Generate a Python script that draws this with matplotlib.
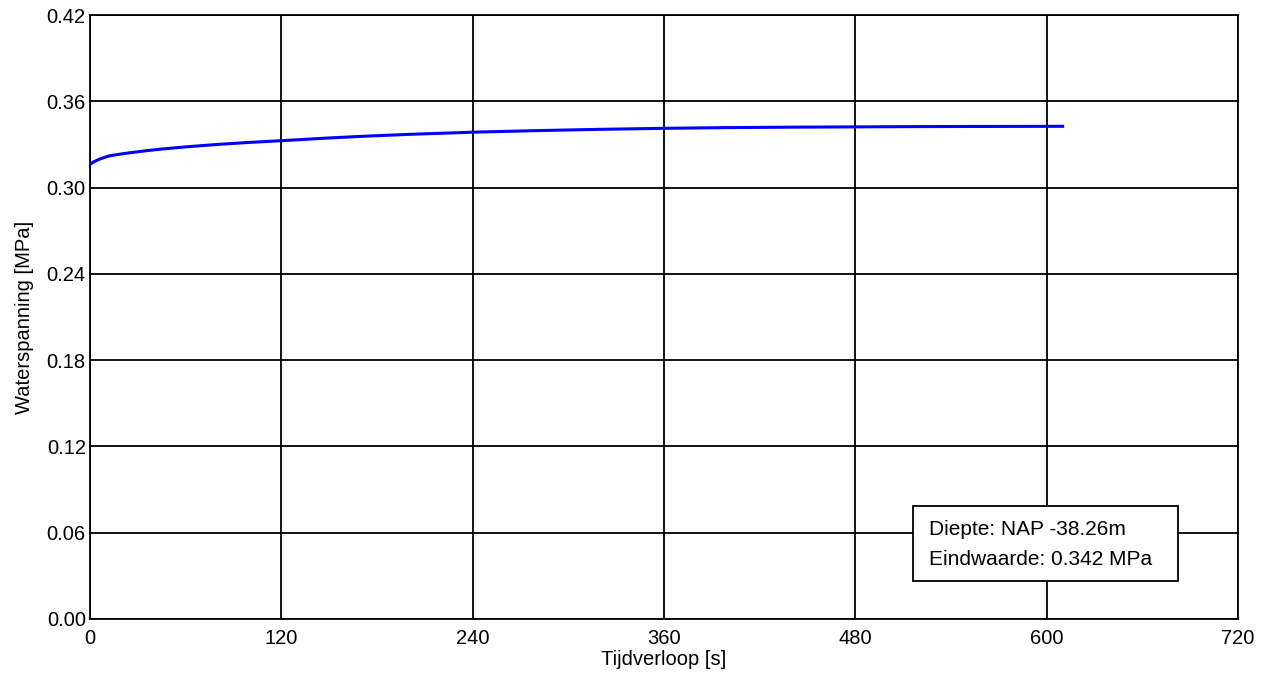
import matplotlib
matplotlib.use("Agg")
import matplotlib.pyplot as plt
from matplotlib.patches import Rectangle

plt.rcParams["font.family"] = ["Liberation Sans", "DejaVu Sans"]

# water pressure curve
tijd = [0, 2, 5, 8, 12, 18, 25, 35, 45, 60, 80, 100, 120, 150, 170, 200,
        240, 280, 320, 360, 400, 440, 480, 520, 560, 610]
spanning = [0.3160, 0.3177, 0.3193, 0.3206, 0.3220, 0.3231, 0.3242, 0.3256,
            0.3268, 0.3283, 0.3300, 0.3314, 0.3326, 0.3345, 0.3356, 0.3370,
            0.3385, 0.3396, 0.3405, 0.3412, 0.3417, 0.3420, 0.3422, 0.3424,
            0.3425, 0.3426]

x_ticks = [0, 120, 240, 360, 480, 600, 720]
y_ticks = [0.00, 0.06, 0.12, 0.18, 0.24, 0.30, 0.36, 0.42]
info_lines = ["Diepte: NAP -38.26m", "Eindwaarde: 0.342 MPa"]

FS = 14.5

fig = plt.figure(figsize=(12.66, 6.79), dpi=100)
ax = fig.add_axes([0.0711, 0.0884, 0.9068, 0.8895])

ax.plot(tijd, spanning, color="#0000ff", lw=2.2, zorder=3)

ax.set_xlim(0, 720)
ax.set_ylim(0, 0.42)
ax.set_xticks(x_ticks)
ax.set_yticks(y_ticks)
ax.set_yticklabels([f"{v:.2f}" for v in y_ticks])
ax.grid(True, color="black", lw=1.3)
ax.tick_params(axis="x", length=0, labelsize=FS, pad=7)
ax.tick_params(axis="y", length=0, labelsize=FS, pad=3)
for sp in ax.spines.values():
    sp.set_color("black")
    sp.set_linewidth(1.3)

ax.set_xlabel("Tijdverloop [s]", fontsize=FS, labelpad=2)
ax.set_ylabel("Waterspanning [MPa]", fontsize=FS, labelpad=9)

# info box in the lower right corner
ax.add_patch(Rectangle((0.7169, 0.0629), 0.2308, 0.1242, transform=ax.transAxes,
                       fc="white", ec="black", lw=1.3, zorder=5))
for yy, line in zip([0.1474, 0.0977], info_lines):
    ax.text(0.7308, yy, line, transform=ax.transAxes, fontsize=15,
            va="center", ha="left", zorder=6)

fig.savefig("out.png", dpi=100)
